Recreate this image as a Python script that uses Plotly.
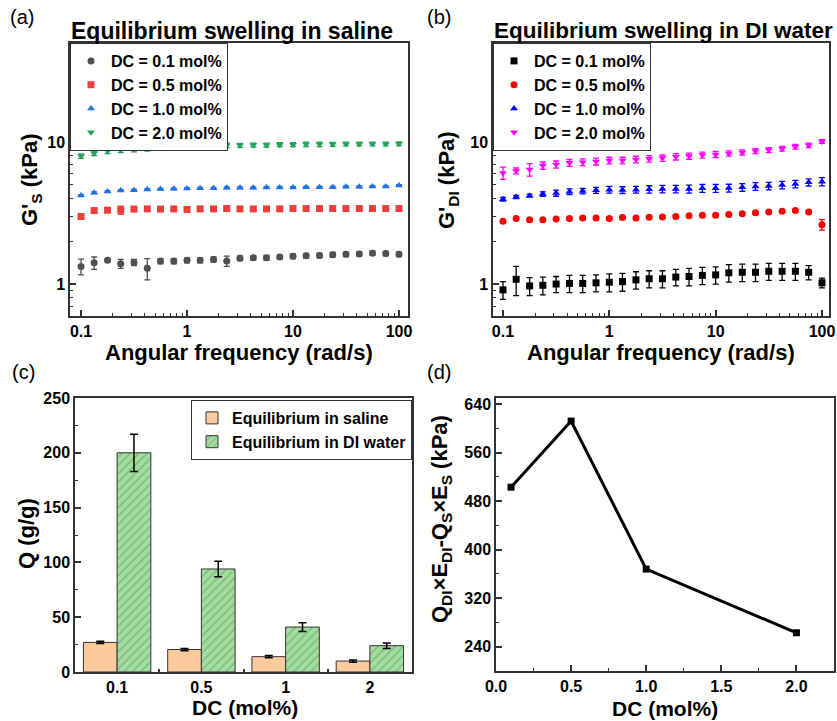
import plotly.graph_objects as go

# ---------------- data ----------------
freq = [0.1, 0.133, 0.178, 0.237, 0.316, 0.422, 0.562, 0.750, 1.0, 1.33, 1.78, 2.37,
        3.16, 4.22, 5.62, 7.50, 10.0, 13.3, 17.8, 23.7, 31.6, 42.2, 56.2, 75.0, 100.0]

# (a) saline
gs_01 = [1.33, 1.41, 1.47, 1.39, 1.42, 1.29, 1.45, 1.45, 1.47, 1.47, 1.49, 1.45, 1.52,
         1.53, 1.53, 1.55, 1.57, 1.58, 1.59, 1.61, 1.62, 1.63, 1.65, 1.64, 1.62]
gs_01_err = [0.17, 0.14, 0.04, 0.10, 0.07, 0.22, 0.06, 0.06, 0.06, 0.06, 0.06, 0.12, 0.06,
             0.05, 0.06, 0.05, 0.06, 0.06, 0.06, 0.06, 0.06, 0.06, 0.06, 0.06, 0.06]
gs_05 = [2.99, 3.29, 3.31, 3.31, 3.37, 3.38, 3.37, 3.38, 3.35, 3.38, 3.38, 3.40, 3.38,
         3.38, 3.38, 3.38, 3.40, 3.40, 3.40, 3.40, 3.40, 3.40, 3.40, 3.40, 3.40]
gs_05_err = [0.10, 0.08, 0.08, 0.22, 0.08, 0.08, 0.10, 0.08, 0.08, 0.08, 0.08, 0.10, 0.10,
             0.10, 0.10, 0.10, 0.10, 0.10, 0.10, 0.10, 0.10, 0.10, 0.10, 0.10, 0.10]
gs_10 = [4.20, 4.39, 4.48, 4.56, 4.58, 4.63, 4.66, 4.68, 4.71, 4.73, 4.73, 4.76, 4.76,
         4.76, 4.79, 4.79, 4.79, 4.81, 4.81, 4.81, 4.84, 4.84, 4.86, 4.86, 4.94]
gs_10_err = [0.06] * 25
gs_20 = [7.96, 8.32, 8.63, 8.78, 8.93, 9.02, 9.12, 9.27, 9.32, 9.37, 9.42, 9.47, 9.47,
         9.52, 9.52, 9.58, 9.58, 9.63, 9.63, 9.63, 9.68, 9.68, 9.68, 9.68, 9.73]
gs_20_err = [0.30, 0.30, 0.35, 0.35, 0.40, 0.40, 0.30, 0.30, 0.30, 0.30, 0.35, 0.35, 0.30,
             0.30, 0.30, 0.30, 0.30, 0.35, 0.35, 0.30, 0.30, 0.30, 0.30, 0.30, 0.30]

# (b) DI water
gd_01 = [0.91, 1.08, 0.97, 0.98, 1.00, 1.01, 1.01, 1.02, 1.03, 1.04, 1.07, 1.09, 1.09,
         1.12, 1.13, 1.15, 1.16, 1.20, 1.21, 1.21, 1.23, 1.23, 1.23, 1.21, 1.02]
gd_01_err = [0.13, 0.25, 0.14, 0.14, 0.13, 0.14, 0.14, 0.14, 0.15, 0.15, 0.15, 0.15, 0.15,
             0.15, 0.16, 0.16, 0.16, 0.17, 0.17, 0.17, 0.17, 0.17, 0.17, 0.14, 0.08]
gd_05 = [2.77, 2.89, 2.83, 2.83, 2.87, 2.89, 2.92, 2.92, 2.89, 2.94, 2.92, 2.95, 2.97,
         2.99, 3.02, 3.05, 3.05, 3.09, 3.12, 3.17, 3.22, 3.26, 3.29, 3.22, 2.62]
gd_05_err = [0.06] * 24 + [0.22]
gd_10 = [3.96, 4.10, 4.19, 4.30, 4.37, 4.47, 4.52, 4.57, 4.62, 4.59, 4.62, 4.64, 4.67,
         4.67, 4.67, 4.72, 4.72, 4.74, 4.80, 4.87, 4.90, 4.98, 5.06, 5.20, 5.26]
gd_10_err = [0.12, 0.10, 0.10, 0.15, 0.22, 0.20, 0.20, 0.22, 0.25, 0.25, 0.25, 0.28, 0.28,
             0.28, 0.30, 0.30, 0.30, 0.30, 0.30, 0.30, 0.30, 0.30, 0.30, 0.30, 0.35]
gd_20 = [6.06, 6.26, 6.40, 6.83, 6.95, 7.13, 7.21, 7.29, 7.41, 7.41, 7.54, 7.62, 7.70,
         7.87, 7.96, 8.09, 8.18, 8.31, 8.45, 8.63, 8.77, 8.97, 9.27, 9.47, 10.1]
gd_20_err = [0.60, 0.30, 0.65, 0.40, 0.40, 0.40, 0.40, 0.40, 0.40, 0.40, 0.40, 0.40, 0.40,
             0.40, 0.40, 0.40, 0.40, 0.35, 0.35, 0.35, 0.35, 0.35, 0.35, 0.35, 0.30]

# (c) swelling ratio
dc_cats = ["0.1", "0.5", "1", "2"]
q_saline = [27, 20.5, 14, 10]
q_saline_err = [1.0, 1.0, 1.0, 1.0]
q_di = [200, 94, 41, 24]
q_di_err = [17, 7, 4, 2.5]

# (d)
dc_vals = [0.1, 0.5, 1.0, 2.0]
qe_diff = [503, 612, 368, 263]

# tick values
freq_ticks = [0.1, 1, 10, 100]
freq_minor = [0.2, 0.3, 0.4, 0.5, 0.6, 0.7, 0.8, 0.9, 2, 3, 4, 5, 6, 7, 8, 9,
              20, 30, 40, 50, 60, 70, 80, 90]
g_ticks = [1, 10]
g_minor = [0.7, 0.8, 0.9, 2, 3, 4, 5, 6, 7, 8, 9, 20, 30, 40]

# -------------- figure ---------------
FONT = "Liberation Sans, Arial, sans-serif"
AX = "#333333"
W, H = 837, 721

fig = go.Figure()

def scatter(x, y, err, name, color, symbol, xa, ya, legend):
    fig.add_trace(go.Scatter(
        x=x, y=y, mode="markers", name=name, xaxis=xa, yaxis=ya, legend=legend,
        marker=dict(color=color, symbol=symbol, size=7),
        error_y=dict(type="data", array=err, color=color, thickness=1.3, width=3),
    ))

scatter(freq, gs_01, gs_01_err, "DC = 0.1 mol%", "#505050", "circle", "x", "y", "legend")
scatter(freq, gs_05, gs_05_err, "DC = 0.5 mol%", "#f03c3c", "square", "x", "y", "legend")
scatter(freq, gs_10, gs_10_err, "DC = 1.0 mol%", "#2370e0", "triangle-up", "x", "y", "legend")
scatter(freq, gs_20, gs_20_err, "DC = 2.0 mol%", "#22a35a", "triangle-down", "x", "y", "legend")

scatter(freq, gd_01, gd_01_err, "DC = 0.1 mol%", "#000000", "square", "x2", "y2", "legend2")
scatter(freq, gd_05, gd_05_err, "DC = 0.5 mol%", "#ff0000", "circle", "x2", "y2", "legend2")
scatter(freq, gd_10, gd_10_err, "DC = 1.0 mol%", "#0000ff", "triangle-up", "x2", "y2", "legend2")
scatter(freq, gd_20, gd_20_err, "DC = 2.0 mol%", "#ff00ff", "triangle-down", "x2", "y2", "legend2")

fig.add_trace(go.Bar(
    x=dc_cats, y=q_saline, name="Equilibrium in saline", xaxis="x3", yaxis="y3", legend="legend3",
    marker=dict(color="#fdca9c", line=dict(color="#333333", width=1)),
    error_y=dict(type="data", array=q_saline_err, color="black", thickness=1.5, width=4),
))
fig.add_trace(go.Bar(
    x=dc_cats, y=q_di, name="Equilibrium in DI water", xaxis="x3", yaxis="y3", legend="legend3",
    marker=dict(color="#a5dca0", line=dict(color="#333333", width=1),
                pattern=dict(shape="/", fgcolor="#4f9a55", bgcolor="#a5dca0", size=6, solidity=0.25)),
    error_y=dict(type="data", array=q_di_err, color="black", thickness=1.5, width=4),
))

fig.add_trace(go.Scatter(
    x=dc_vals, y=qe_diff, mode="lines+markers", xaxis="x4", yaxis="y4", showlegend=False,
    line=dict(color="black", width=3), marker=dict(color="black", symbol="square", size=7),
))

tickfont = dict(family=FONT, size=16, color="black", weight="bold")

def axis(**kw):
    d = dict(showline=True, linecolor=AX, linewidth=1.5, mirror=True, ticks="inside",
             ticklen=6, tickwidth=1.5, tickcolor=AX, showgrid=False, zeroline=False,
             tickfont=tickfont, automargin=False)
    d.update(kw)
    return d

def minor(**kw):
    d = dict(ticks="inside", ticklen=3, tickwidth=1, tickcolor=AX, showgrid=False)
    d.update(kw)
    return d

def px(x0, x1):
    return [x0 / W, x1 / W]
def py(top, bot):
    return [1 - bot / H, 1 - top / H]

legfont = dict(family=FONT, size=16, weight="bold", color="black")

fig.update_layout(
    width=W, height=H, margin=dict(l=0, r=0, t=0, b=0, autoexpand=False),
    paper_bgcolor="white", plot_bgcolor="white",
    font=dict(family=FONT, color="black"),
    barmode="group", bargap=0.2, bargroupgap=0,
    xaxis=axis(type="log", domain=px(70, 408), range=[-1.104, 2.085], anchor="y",
               tickvals=freq_ticks, ticktext=["0.1", "1", "10", "100"],
               minor=minor(tickvals=freq_minor)),
    yaxis=axis(type="log", domain=py(43, 316), range=[-0.225, 1.697], anchor="x",
               tickvals=g_ticks, ticktext=["1", "10"], minor=minor(tickvals=g_minor)),
    xaxis2=axis(type="log", domain=px(493, 829), range=[-1.094, 2.066], anchor="y2",
                tickvals=freq_ticks, ticktext=["0.1", "1", "10", "100"],
                minor=minor(tickvals=freq_minor)),
    yaxis2=axis(type="log", domain=py(43, 316), range=[-0.225, 1.697], anchor="x2",
                tickvals=g_ticks, ticktext=["1", "10"], minor=minor(tickvals=g_minor)),
    xaxis3=axis(type="category", domain=px(75, 412), range=[-0.5, 3.5], anchor="y3",
                tickson="boundaries", ticklen=3),
    yaxis3=axis(domain=py(398, 672), range=[0, 250], anchor="x3", dtick=50,
                minor=minor(dtick=25)),
    xaxis4=axis(domain=px(496, 834), range=[0, 2.25], anchor="y4", dtick=0.5, tickformat=".1f",
                minor=minor(dtick=0.25)),
    yaxis4=axis(domain=py(398, 671), range=[200, 650], anchor="x4",
                tickvals=[240, 320, 400, 480, 560, 640],
                minor=minor(tickvals=[280, 360, 440, 520, 600])),
    legend=dict(x=70 / W, y=1 - 43 / H, xanchor="left", yanchor="top", bgcolor="white",
                bordercolor=AX, borderwidth=1, font=legfont, tracegroupgap=0, itemwidth=30),
    legend2=dict(x=493 / W, y=1 - 43 / H, xanchor="left", yanchor="top", bgcolor="white",
                 bordercolor=AX, borderwidth=1, font=legfont, tracegroupgap=0, itemwidth=30),
    legend3=dict(x=412 / W, y=1 - 400 / H, xanchor="right", yanchor="top", bgcolor="white",
                 bordercolor=AX, borderwidth=1, font=legfont, tracegroupgap=0, itemwidth=30),
)

# text labels: (x, y) are pixel centers / anchors
texts = [
    ("(a)", 8, 17, 20, "normal", "left", 0),
    ("(b)", 425, 17, 20, "normal", "left", 0),
    ("(c)", 10, 372, 20, "normal", "left", 0),
    ("(d)", 425, 372, 20, "normal", "left", 0),
    ("Equilibrium swelling in saline", 69, 31, 23, "bold", "left", 0),
    ("Equilibrium swelling in DI water", 492, 31, 22.5, "bold", "left", 0),
    ("Angular frequency (rad/s)", 239, 352, 22, "bold", "center", 0),
    ("Angular frequency (rad/s)", 661, 352, 22, "bold", "center", 0),
    ("G'<sub>S</sub> (kPa)", 31, 180, 22, "bold", "center", -90),
    ("G'<sub>DI</sub> (kPa)", 448, 180, 22, "bold", "center", -90),
    ("DC (mol%)", 245, 707, 21, "bold", "center", 0),
    ("Q (g/g)", 26, 534, 22, "bold", "center", -90),
    ("DC (mol%)", 665, 708, 21, "bold", "center", 0),
    ("Q<sub>DI</sub>×E<sub>DI</sub>-Q<sub>S</sub>×E<sub>S</sub> (kPa)", 441, 519, 22, "bold", "center", -90),
]
for t, x, y, s, wgt, xa, ang in texts:
    fig.add_annotation(text=t, xref="paper", yref="paper", x=x / W, y=1 - y / H,
                       xanchor=xa, yanchor="middle", showarrow=False, textangle=ang,
                       font=dict(family=FONT, size=s, color="black", weight=wgt))

fig.write_html("out.html", config={"displayModeBar": False},
               post_script="document.body.style.margin='0px';")
